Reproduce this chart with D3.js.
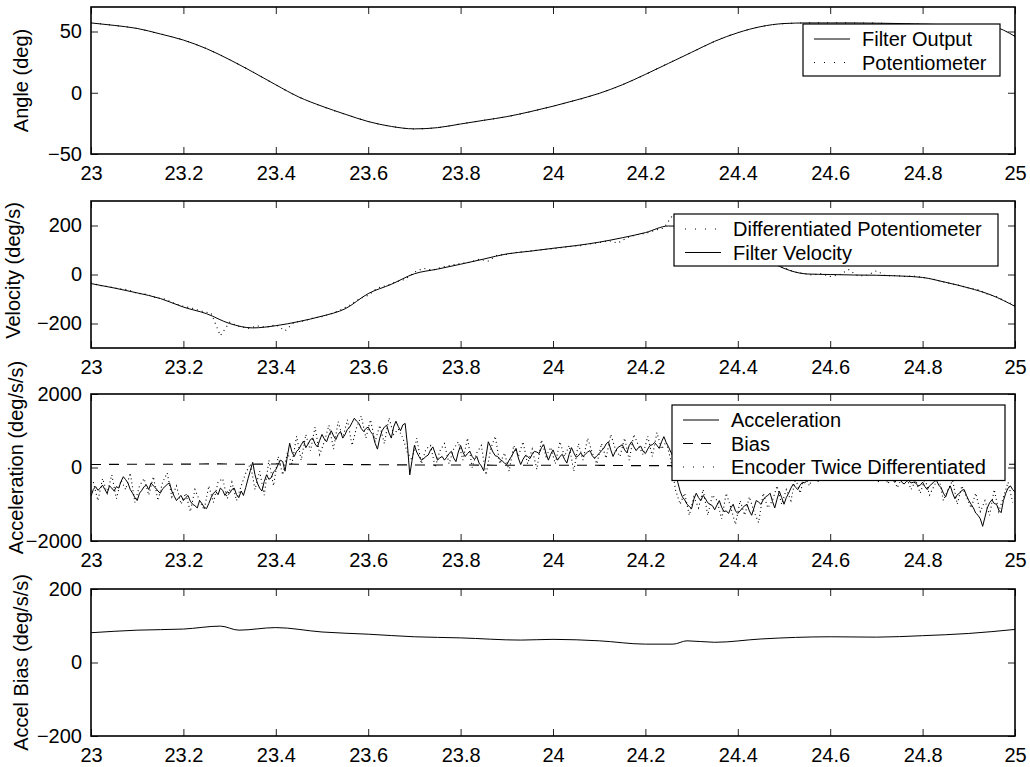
<!DOCTYPE html>
<html>
<head>
<meta charset="utf-8">
<script src="https://cdn.jsdelivr.net/npm/d3@7"></script>
<style>
  body { margin: 0; background: #fff; }
  svg { display: block; font-family: "Liberation Sans", Arial, Helvetica, sans-serif; }
</style>
</head>
<body>
<div id="chart"></div>
<script>
// ---- data ----
const xTicks = [23, 23.2, 23.4, 23.6, 23.8, 24, 24.2, 24.4, 24.6, 24.8, 25]

// angle, sampled every 0.05 s from 23.00
const filterAngle = [57, 55, 52.5, 48, 43, 36, 27, 17, 6.5, -3.5, -11, -17.5, -23.5, -27.5, -29.5, -28.5, -25.5, -22.5, -19.5, -15.5,
  -11, -6, -0.5, 6.5, 15, 24, 33, 42, 49, 54, 56.5, 57, 57, 57, 56.8, 56.5, 56, 55.5, 55, 54, 46]
const potAngle = [57.2, 55, 52.4, 48, 43.1, 36, 27.1, 17, 6.4, -3.5, -11.1, -17.5, -23.4, -27.5, -29.6, -28.5, -25.4, -22.5, -19.5, -15.6,
  -11, -6.1, -0.5, 6.4, 15, 24.1, 33, 42, 49.1, 54, 56.4, 57, 57.1, 57, 56.8, 56.4, 56, 55.5, 55.1, 54, 46.2]

// velocity: filter every 0.05 s, differentiated pot every 0.02 s
const filterVel = [-37, -55, -75, -98, -133, -160, -200, -218, -209, -192, -170, -140, -78, -40, 3, 22, 42, 63, 84, 95,
  107, 118, 132, 150, 171, 198, 195, 165, 125, 75, 25, 2, 0, -2, -3, -6, -12, -32, -55, -85, -130]
const potVel = [-35, -45, -50, -58, -62, -78, -80, -95, -100, -118,
  -130, -138, -150, -158, -250, -195, -212, -220, -210, -215,
  -205, -230, -195, -190, -178, -172, -160, -145, -125, -100,
  -85, -55, -45, -30, -20, 10, 25, 18, 30, 38,
  45, 50, 62, 55, 80, 82, 90, 94, 98, 102,
  105, 110, 115, 118, 125, 130, 138, 128, 150, 162,
  168, 180, 190, 245, 180, 190, 180, 170, 155, 140,
  125, 105, 85, 65, 40, 28, 12, 5, -2, 3,
  -8, -2, 20, -6, -3, 15, -5, -4, -8, -6,
  -12, -18, -28, -36, -45, -55, -62, -80, -90, -110, -125]

// acceleration estimate every 0.01 s from 23.00 ...
const accel = [-780, -520, -560, -600, -500, -640, -560, -250, -420, -700,
  -900, -620, -480, -420, -560, -700, -520, -420, -780, -820,
  -900, -760, -1000, -1100, -980, -1120, -820, -650, -560, -760,
  -700, -560, -820, -760, -300, 140, -420, -640, -200, -280,
  -60, 200, -100, 660, 300, 500, 720, 640, 800, 560,
  900, 700, 1000, 760, 980, 900, 1100, 1340, 1200, 980,
  1100, 900, 500, 1000, 1150, 800, 1260, 1000, 1200, -200,
  600, 300, 240, 340, 560, 200, 300, 280, 440, 160,
  600, 300, 440, 220, 120, -90, 700, 420, 300, 180,
  80, 300, 520, 80, 320, 240, 440, 380, 620, 200,
  480, 200, 360, 120, 540, 280, 400, 360, 460, 250,
  380, 520, 700, 300, 540, 620, 400, 700, 460, 580,
  380, 600, 680, 520, 840, 560, 300, -400, -800, -1000,
  -1120, -700, -900, -850, -1000, -1150, -900, -1200, -1250, -1000,
  -1250, -1100, -1000, -1300, -900, -1000, -800, -700, -1100, -650,
  -1000, -700, -450, -600, -400, -350, -300, -250, -200, -100,
  -150, -80, -120, -50, -100, -60, -200, -150, -100, -250,
  -200, -300, -350, -250, -400, -300, -450, -350, -400, -500,
  -400, -600, -450, -350, -550, -800, -500, -850, -700, -600,
  -900, -1100, -1300, -1600, -1100, -880, -1000, -1230, -700, -500, -670]
// ... and the samples in between (23.005, 23.015, ...)
const accelMid = [-600, -620, -480, -700, -560, -520, -380, -330, -600, -820,
  -700, -520, -600, -500, -640, -580, -460, -640, -900, -760,
  -820, -920, -1040, -900, -1080, -980, -700, -740, -620, -660,
  -600, -740, -640, -540, -80, -200, -560, -380, -320, -120,
  80, 160, 300, 420, 440, 620, 540, 760, 640, 740,
  780, 880, 860, 900, 800, 1040, 1220, 1260, 1060, 1060,
  980, 660, 800, 1100, 940, 1100, 1120, 1160, 600, 200,
  420, 200, 300, 480, 380, 260, 200, 380, 260, 420,
  420, 380, 300, 300, 40, 300, 560, 320, 220, 120,
  200, 420, 260, 220, 300, 360, 420, 540, 380, 360,
  320, 300, 220, 360, 400, 320, 300, 420, 320, 320,
  460, 640, 480, 440, 580, 480, 600, 560, 540, 440,
  500, 620, 600, 700, 680, 420, -100, -640, -880, -1060,
  -860, -820, -760, -960, -1040, -1020, -1080, -1180, -1100, -1180,
  -1180, -1040, -1180, -1100, -940, -880, -760, -920, -860, -820,
  -820, -560, -540, -480, -420, -280, -320, -180, -160, -160,
  -120, -140, -60, -90, -40, -140, -120, -160, -180, -180,
  -280, -260, -320, -340, -320, -400, -380, -420, -420, -480,
  -520, -500, -380, -480, -700, -620, -700, -740, -620, -760,
  -1000, -1240, -1400, -1350, -960, -980, -1160, -900, -560, -600]

// encoder twice differentiated, every 0.01 s from 23.005
const encAccel = [-400, -900, -300, -700, -200, -850, -350, -600, -150, -950,
  -500, -300, -750, -250, -900, -400, -150, -800, -500, -1000,
  -700, -1200, -600, -900, -1150, -500, -950, -400, -300, -850,
  -400, -900, -500, -150, 100, -600, -100, -750, 200, -500,
  300, -200, 400, 100, 850, 200, 900, 450, 1100, 350,
  700, 1150, 500, 1250, 800, 1300, 600, 1100, 1400, 800,
  1300, 700, 1150, 650, 1350, 900, 1050, 800, 400, 200,
  800, 100, 500, 600, 0, 450, 650, 100, 500, 700,
  200, 800, 0, 400, 600, -200, 500, 850, 100, 400,
  -100, 600, 300, 700, 100, 500, -50, 750, 300, 550,
  100, 700, 300, 600, -100, 650, 200, 800, 400, 100,
  650, 250, 900, 500, 300, 800, 200, 900, 600, 350,
  850, 300, 950, 500, 700, 200, -600, -1000, -700, -1300,
  -800, -1100, -600, -1300, -750, -900, -1400, -700, -1100, -1550,
  -900, -1300, -800, -1200, -1500, -700, -1100, -900, -500, -1000,
  -600, -900, -300, -700, -200, -500, -150, -400, -100, -300,
  0, -250, 100, -200, 50, -300, -100, 0, -350, -150,
  -400, -100, -450, -200, -550, -300, -250, -600, -350, -700,
  -300, -750, -500, -250, -900, -600, -350, -1000, -500, -800,
  -1100, -700, -1200, -900, -1300, -600, -1200, -800, -400, -950]

// accel bias
const biasT = [23, 23.1, 23.2, 23.28, 23.32, 23.4, 23.5, 23.6, 23.7, 23.8, 23.93, 24.0, 24.1, 24.2, 24.26, 24.29, 24.35, 24.45, 24.6, 24.7, 24.8, 24.9, 25]
const biasV = [81, 88, 91, 99, 88, 95, 83, 77, 70, 67, 61, 63, 59, 50, 50, 59, 55, 64, 70, 69, 73, 79, 90]

// ---- helpers ----
const uniform = (vals, t0, step) => vals.map((v, i) => [t0 + i * step, v])
const pairs = (ts, vs) => ts.map((t, i) => [t, vs[i]])
const accelData = uniform(accel, 23, 0.01).concat(uniform(accelMid, 23.005, 0.01))
  .sort((a, b) => a[0] - b[0])

const width = 1030, height = 767
const svg = d3.select('#chart').append('svg').attr('width', width).attr('height', height)

const x = d3.scaleLinear().domain([23, 25]).range([91, 1015])
const panelH = 147
const fmt = d => String(+d.toFixed(1))

const SOLID = null, DOTTED = '1,8', DASHED = '10,8'

const panels = [
  {
    top: 7, domain: [-50, 70], ticks: [-50, 0, 50], label: 'Angle (deg)', labelX: 21, labelDy: 0,
    series: [
      { data: uniform(filterAngle, 23, 0.05), dash: SOLID, curve: d3.curveMonotoneX },
      { data: uniform(potAngle, 23, 0.05), dash: DOTTED, curve: d3.curveMonotoneX }
    ],
    legend: { x: 803, y: 24, w: 197, items: [['Filter Output', SOLID], ['Potentiometer', DOTTED]] }
  },
  {
    top: 201, domain: [-300, 300], ticks: [-200, 0, 200], label: 'Velocity (deg/s)', labelX: 13, labelDy: -4,
    series: [
      { data: uniform(potVel, 23, 0.02), dash: '1,4', curve: d3.curveLinear },
      { data: uniform(filterVel, 23, 0.05), dash: SOLID, curve: d3.curveMonotoneX }
    ],
    legend: { x: 674, y: 214, w: 324, items: [['Differentiated Potentiometer', DOTTED], ['Filter Velocity', SOLID]] }
  },
  {
    top: 394, domain: [-2000, 2000], ticks: [-2000, 0, 2000], label: 'Acceleration (deg/s/s)', labelX: 16, labelDy: -10,
    series: [
      { data: uniform(encAccel, 23.005, 0.01), dash: '1,3', curve: d3.curveLinear },
      { data: pairs(biasT, biasV), dash: DASHED, curve: d3.curveMonotoneX },
      { data: accelData, dash: SOLID, curve: d3.curveLinear }
    ],
    legend: { x: 672, y: 405, w: 333, items: [['Acceleration', SOLID], ['Bias', DASHED], ['Encoder Twice Differentiated', DOTTED]] }
  },
  {
    top: 589, domain: [-200, 200], ticks: [-200, 0, 200], label: 'Accel Bias (deg/s/s)', labelX: 21, labelDy: 0,
    series: [
      { data: pairs(biasT, biasV), dash: SOLID, curve: d3.curveMonotoneX }
    ],
    legend: null
  }
]

panels.forEach((p, pi) => {
  const y = d3.scaleLinear().domain(p.domain).range([p.top + panelH, p.top])
  const g = svg.append('g')

  const clipId = 'clip' + pi
  svg.append('clipPath').attr('id', clipId)
    .append('rect').attr('x', x.range()[0]).attr('y', p.top).attr('width', x.range()[1] - x.range()[0]).attr('height', panelH)

  // series
  const plot = g.append('g').attr('clip-path', `url(#${clipId})`)
  p.series.forEach(s => {
    const line = d3.line().x(d => x(d[0])).y(d => y(d[1])).curve(s.curve)
    plot.append('path')
      .datum(s.data)
      .attr('d', line)
      .attr('fill', 'none')
      .attr('stroke', '#000')
      .attr('stroke-width', s.dash ? 1.1 : 1)
      .attr('stroke-dasharray', s.dash)
  })

  // axes: ticks point inwards, box drawn separately
  const bottom = g.append('g').attr('transform', `translate(0,${p.top + panelH})`)
    .call(d3.axisBottom(x).tickValues(xTicks).tickFormat(fmt).tickSize(-7).tickPadding(12))
  const topAx = g.append('g').attr('transform', `translate(0,${p.top})`)
    .call(d3.axisTop(x).tickValues(xTicks).tickFormat('').tickSize(-7))
  const leftAx = g.append('g').attr('transform', `translate(${x.range()[0]},0)`)
    .call(d3.axisLeft(y).tickValues(p.ticks).tickFormat(d3.format('d')).tickSize(-7).tickPadding(9))
  const rightAx = g.append('g').attr('transform', `translate(${x.range()[1]},0)`)
    .call(d3.axisRight(y).tickValues(p.ticks).tickFormat('').tickSize(-7))
  ;[bottom, topAx, leftAx, rightAx].forEach(a => {
    a.select('.domain').remove()
    a.selectAll('.tick line').attr('stroke', '#222').attr('stroke-width', 1)
    a.selectAll('.tick text').attr('fill', '#000').attr('font-size', 20)
      .attr('font-family', '"Liberation Sans", Arial, Helvetica, sans-serif')
  })

  // legend
  if (p.legend) {
    const L = p.legend
    const lg = g.append('g').attr('transform', `translate(${L.x},${L.y})`)
    const rowH = 23.5
    lg.append('rect')
      .attr('width', L.w).attr('height', 8 + L.items.length * rowH - 3)
      .attr('fill', '#fff').attr('stroke', '#000').attr('stroke-width', 1.2)
    L.items.forEach(([name, dash], i) => {
      const cy = 15 + i * rowH
      lg.append('line')
        .attr('x1', 11).attr('x2', 47).attr('y1', cy).attr('y2', cy)
        .attr('stroke', '#000').attr('stroke-width', 1)
        .attr('stroke-dasharray', dash === DOTTED ? '1,9' : dash)
      lg.append('text')
        .attr('x', 59).attr('y', cy).attr('dy', '0.35em')
        .attr('font-size', 20).attr('fill', '#000')
        .text(name)
    })
  }

  // frame
  g.append('rect')
    .attr('x', x.range()[0]).attr('y', p.top)
    .attr('width', x.range()[1] - x.range()[0]).attr('height', panelH)
    .attr('fill', 'none').attr('stroke', '#000').attr('stroke-width', 1.6)

  // y label
  g.append('text')
    .attr('transform', `translate(${p.labelX},${p.top + panelH / 2 + p.labelDy}) rotate(-90)`)
    .attr('text-anchor', 'middle')
    .attr('dy', '0.35em')
    .attr('font-size', 20)
    .attr('fill', '#000')
    .text(p.label)
})
</script>
</body>
</html>
